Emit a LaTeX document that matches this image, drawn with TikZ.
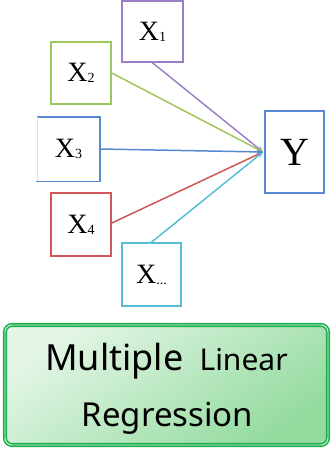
\documentclass[tikz,border=0pt]{standalone}
\usepackage{fontspec}
\setmainfont{Liberation Serif}
\newfontfamily\labfont{Noto Sans}
\usetikzlibrary{arrows.meta,shadings}
\definecolor{cpurple}{RGB}{155,128,200}
\definecolor{cgreen}{RGB}{158,200,92}
\definecolor{cblue}{RGB}{88,136,208}
\definecolor{cred}{RGB}{208,88,88}
\definecolor{ccyan}{RGB}{86,190,214}
\definecolor{bgreen}{RGB}{30,176,80}
\definecolor{gtop}{RGB}{228,246,230}
\definecolor{gbot}{RGB}{148,219,160}
\tikzset{
  var/.style={draw=#1, line width=1.6pt, fill=white, inner sep=0pt, font=\fontsize{28}{28}\selectfont},
  link/.style={draw=#1, line width=1.5pt, -{Stealth[length=6pt,width=5pt]}},
  lab/.style={anchor=base, inner sep=0pt, font=\labfont},
}
\newcommand{\sub}[1]{\raisebox{-1pt}{\fontsize{14}{14}\selectfont #1}}
\begin{document}
\begin{tikzpicture}[x=1pt,y=1pt]
\useasboundingbox (0,0) rectangle (333,-453);
\coordinate (tip) at (263,-152);
\node[var=cpurple, minimum width=61pt, minimum height=61pt] (x1) at (152.5,-31.5) {X\sub{1}};
\node[var=cgreen, minimum width=60pt, minimum height=62pt] (x2) at (81,-73) {X\sub{2}};
\node[var=cblue, draw=none, minimum width=61pt, minimum height=63pt] (x3) at (68.5,-149) {X\sub{3}};
\draw[cblue, line width=1.6pt] (x3.north west) -- (x3.north east) -- (x3.south east) -- ([xshift=-1.5pt]x3.south west);
\draw[cblue!25, line width=0.6pt] (x3.north west) -- (x3.south west);
\node[var=cred, minimum width=60pt, minimum height=63pt] (x4) at (81,-224.5) {X\sub{4}};
\node[var=ccyan, minimum width=59pt, minimum height=63pt] (xd) at (151.5,-274.5) {X\sub{...}};
\node[var=cblue, minimum width=59pt, minimum height=82pt, font=\fontsize{40}{40}\selectfont] (y) at (294.5,-152) {Y};
\draw[link=cpurple] (x1.south) -- (tip);
\draw[link=cgreen] (x2.east) -- (tip);
\draw[link=cred] (x4.east) ++(0,1.5) -- (tip);
\draw[link=ccyan] (xd.north) -- (tip);
\draw[link=cblue] (x3.east) -- (tip);
\node[draw=bgreen, line width=1.6pt, double=gtop!70!bgreen!50, double distance=0.9pt, rounded corners=7pt,
  top color=gtop, bottom color=gbot, shading angle=35,
  minimum width=323pt, minimum height=120pt, inner sep=0pt] (mlr) at (166.5,-385) {};
\node[lab] (t1) at (166.5,-370) {{\fontsize{36}{40}\selectfont Multiple}\hspace{16pt}{\fontsize{30}{40}\selectfont Linear}};
\node[lab] (t2) at (167.5,-426) {\fontsize{33}{40}\selectfont Regression};
\end{tikzpicture}
\end{document}
